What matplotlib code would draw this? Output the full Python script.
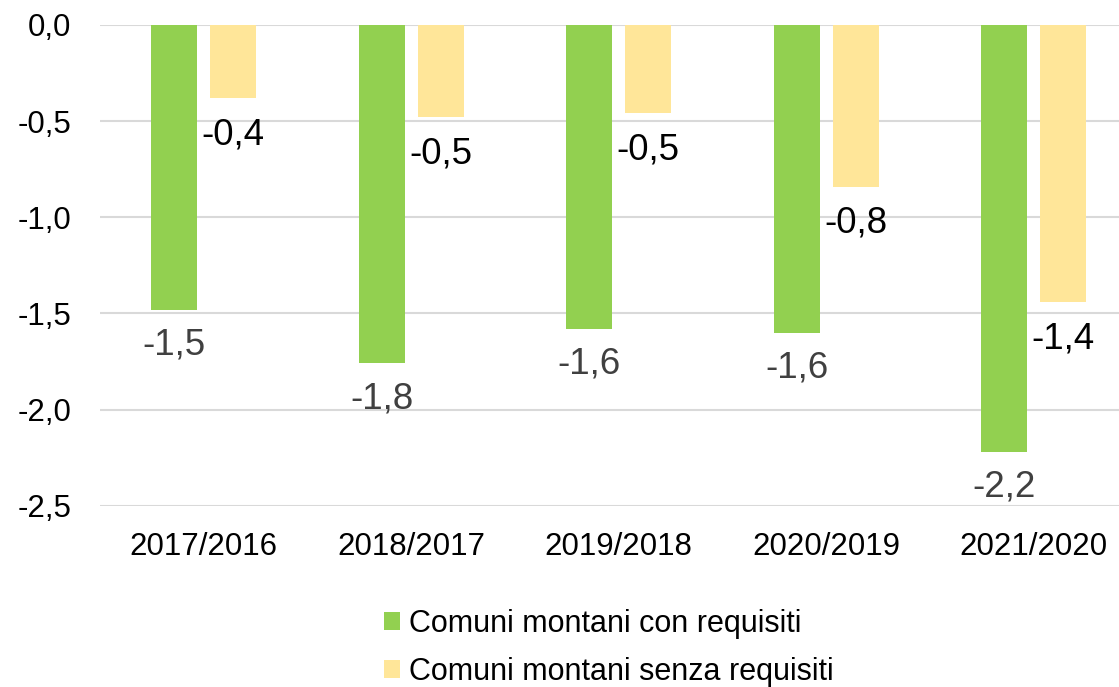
import matplotlib
matplotlib.use("Agg")
import matplotlib.pyplot as plt
import numpy as np
from matplotlib.patches import Patch
from matplotlib.ticker import FuncFormatter

categories = ["2017/2016", "2018/2017", "2019/2018", "2020/2019", "2021/2020"]
con_requisiti = [-1.48, -1.76, -1.58, -1.60, -2.22]
senza_requisiti = [-0.38, -0.48, -0.46, -0.84, -1.44]
series_names = ["Comuni montani con requisiti", "Comuni montani senza requisiti"]

green = "#92D050"
yellow = "#FFE699"

plt.rcParams['font.family'] = ['Liberation Sans', 'DejaVu Sans']

W, H, DPI = 1119, 687, 100
fig = plt.figure(figsize=(W / DPI, H / DPI), dpi=DPI)
left, right = 100, 100 + 5 * 207.5
top, bottom = 25, 505.7
ax = fig.add_axes([left / W, 1 - bottom / H, (right - left) / W, (bottom - top) / H])

x = np.arange(len(categories))
bw = 0.222
off = 0.142
ax.bar(x - off, con_requisiti, bw, color=green, zorder=3)
ax.bar(x + off, senza_requisiti, bw, color=yellow, zorder=3)

def fmt(v):
    return f"{v:.1f}".replace(".", ",")

for xi, v in zip(x, con_requisiti):
    ax.annotate(fmt(v), (xi - off, v), xytext=(0, -25.5), textcoords="offset points",
                ha="center", va="center", fontsize=26.5, color="#404040", zorder=4)
for xi, v in zip(x, senza_requisiti):
    ax.annotate(fmt(v), (xi + off, v), xytext=(0, -26.5), textcoords="offset points",
                ha="center", va="center", fontsize=26.5, color="black", zorder=4)

ax.set_xlim(-0.5, len(categories) - 0.5)
ax.set_ylim(-2.5, 0)
ax.set_yticks([0, -0.5, -1.0, -1.5, -2.0, -2.5])
ax.yaxis.set_major_formatter(FuncFormatter(lambda v, p: fmt(v)))
ax.set_xticks(x)
ax.set_xticklabels(categories)
ax.tick_params(axis="y", length=0, pad=20.5, labelsize=22.5, colors="black")
ax.tick_params(axis="x", length=0, pad=19, labelsize=22.5, colors="black")
for s in ax.spines.values():
    s.set_visible(False)
ax.grid(axis="y", color="#D9D9D9", linewidth=1.5, zorder=0)
ax.set_axisbelow(True)

handles = [Patch(facecolor=green, edgecolor="none"), Patch(facecolor=yellow, edgecolor="none")]
fig.legend(handles, series_names, loc="center", bbox_to_anchor=(609 / W, 1 - 648 / H),
           frameon=False, fontsize=22, handlelength=0.52, handleheight=0.52,
           handletextpad=0.28, labelspacing=0.6, borderpad=0)

fig.savefig("out.png", dpi=DPI)
